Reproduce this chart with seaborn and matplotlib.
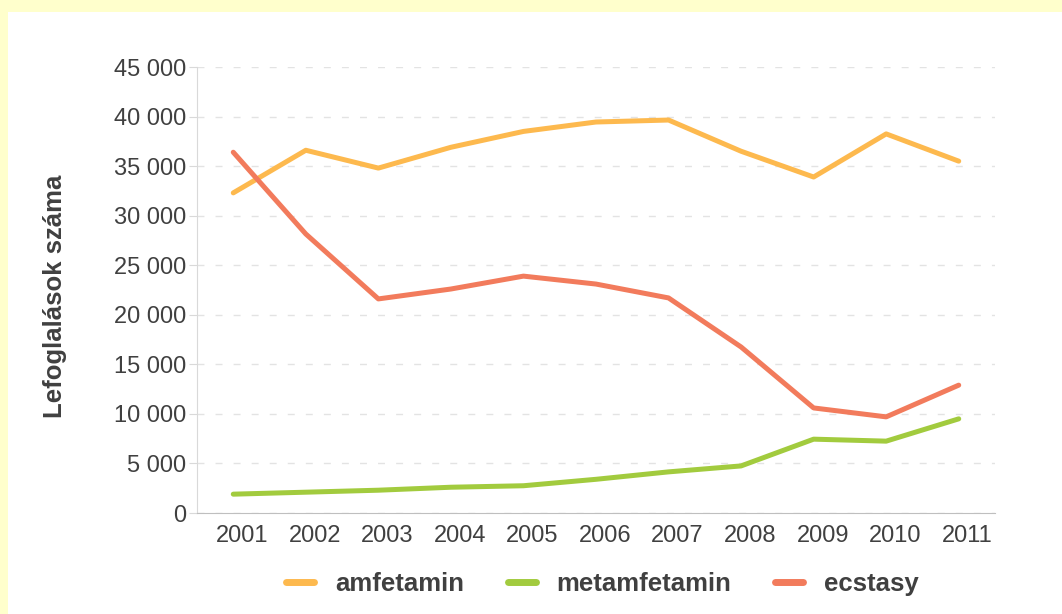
import pandas as pd
import seaborn as sns
import matplotlib.pyplot as plt
import matplotlib.transforms as mtransforms
from matplotlib.patches import Rectangle

# Adatok
evek = ['2001', '2002', '2003', '2004', '2005', '2006', '2007', '2008', '2009', '2010', '2011']
amfetamin = [32300, 36600, 34800, 36900, 38500, 39450, 39650, 36500, 33900, 38250, 35500]
metamfetamin = [1900, 2100, 2300, 2600, 2750, 3400, 4150, 4750, 7450, 7250, 9500]
ecstasy = [36400, 28150, 21600, 22600, 23900, 23100, 21700, 16750, 10600, 9700, 12900]

df = pd.DataFrame({'ev': evek, 'amfetamin': amfetamin,
                   'metamfetamin': metamfetamin, 'ecstasy': ecstasy})
df_long = df.melt(id_vars='ev', var_name='szer', value_name='db')

szinek = {'amfetamin': '#FDB94E', 'metamfetamin': '#A2CB3E', 'ecstasy': '#F27B5C'}

sns.set_style('white')
plt.rcParams['font.family'] = ['Liberation Sans', 'DejaVu Sans']

fig = plt.figure(figsize=(10.62, 6.14), dpi=100)
fig.patch.set_facecolor('#FFFFCC')
# feher panel a sarga keretben
fig.patches.append(Rectangle((8 / 1062, 0), 1, 1 - 12 / 614, transform=fig.transFigure,
                             facecolor='white', edgecolor='none', zorder=-10))

ax = fig.add_axes([197 / 1062, 101 / 614, 798 / 1062, 446 / 614])
ax.set_facecolor('none')

sns.lineplot(data=df_long, x='ev', y='db', hue='szer', palette=szinek,
             linewidth=3.6, ax=ax, sort=False)

ax.set_xlim(-0.5, len(evek) - 0.5)
ax.set_ylim(0, 45000)
ax.set_yticks(range(0, 45001, 5000))
ax.set_yticklabels(['0' if v == 0 else f'{v // 1000} 000' for v in range(0, 45001, 5000)])
ax.set_xticks(range(len(evek)))
ax.set_xticklabels(evek)
ax.set_xticks([i - 0.5 for i in range(len(evek) + 1)], minor=True)

ax.yaxis.grid(True, linestyle=(0, (5, 8)), color='#E3E3E3', linewidth=1)
ax.set_axisbelow(True)
for s in ['top', 'right']:
    ax.spines[s].set_visible(False)
ax.spines['left'].set_color('#D9D9D9')
ax.spines['bottom'].set_color('#BFBFBF')

ax.tick_params(axis='x', which='major', length=0, pad=9, labelsize=17, labelcolor='#404040')
ax.tick_params(axis='x', which='minor', length=5, color='#BFBFBF', direction='out')
ax.tick_params(axis='y', length=6, color='#D9D9D9', left=True, pad=2,
               labelsize=17, labelcolor='#404040')

# ev feliratok kicsit jobbra tolva, mint az eredetin
eltolas = mtransforms.ScaledTranslation(9 / 100, 0, fig.dpi_scale_trans)
for lbl in ax.get_xticklabels():
    lbl.set_transform(lbl.get_transform() + eltolas)

ax.set_xlabel('')
ax.set_ylabel('Lefoglalások száma', fontsize=18.5, fontweight='bold', color='#404040')
ax.yaxis.set_label_coords(-130 / 798, 0.485)

handles, labels = ax.get_legend_handles_labels()
for h in handles:
    h.set_linewidth(5)
leg = ax.legend(handles, labels, loc='center', bbox_to_anchor=(0.508, -0.159),
                ncol=3, frameon=False, handlelength=1.1, handletextpad=0.8,
                columnspacing=1.7, prop={'size': 18.5, 'weight': 'bold'})
for t in leg.get_texts():
    t.set_color('#404040')

fig.savefig('out.png', dpi=100, facecolor=fig.get_facecolor())
